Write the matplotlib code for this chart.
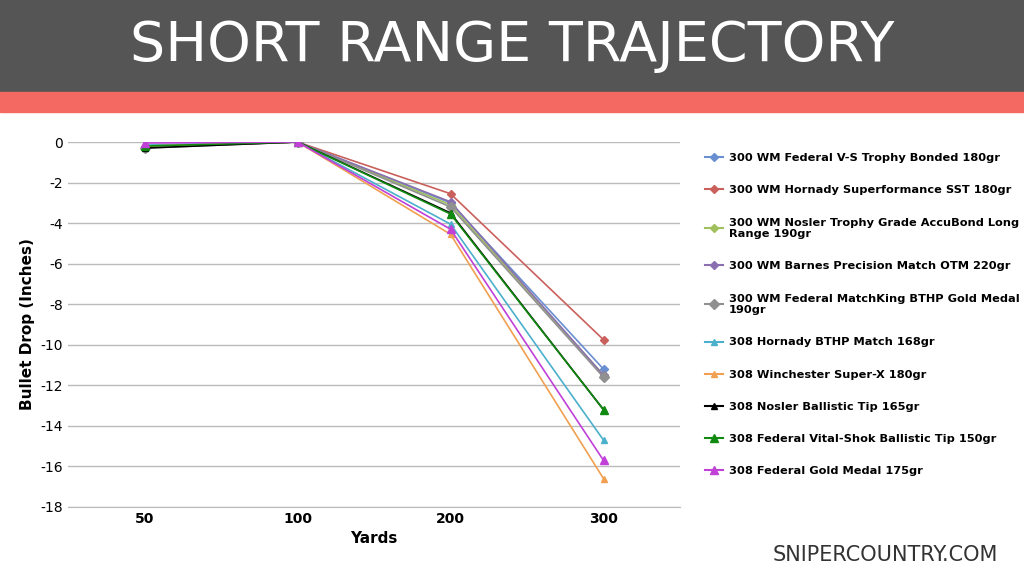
import matplotlib
matplotlib.use("Agg")
import matplotlib.pyplot as plt
from matplotlib.lines import Line2D

plt.rcParams["axes.unicode_minus"] = False

yards = ["50", "100", "200", "300"]
names = ["300 WM Federal V-S Trophy Bonded 180gr",
         "300 WM Hornady Superformance SST 180gr",
         "300 WM Nosler Trophy Grade AccuBond Long\nRange 190gr",
         "300 WM Barnes Precision Match OTM 220gr",
         "300 WM Federal MatchKing BTHP Gold Medal\n190gr",
         "308 Hornady BTHP Match 168gr",
         "308 Winchester Super-X 180gr",
         "308 Nosler Ballistic Tip 165gr",
         "308 Federal Vital-Shok Ballistic Tip 150gr",
         "308 Federal Gold Medal 175gr"]
s1 = [-0.25, 0, -3.0, -11.2]
s2 = [-0.25, 0, -2.55, -9.75]
s3 = [-0.25, 0, -3.1, -11.5]
s4 = [-0.25, 0, -2.95, -11.5]
s5 = [-0.3, 0, -3.2, -11.6]
s6 = [-0.15, 0, -4.05, -14.7]
s7 = [-0.2, 0, -4.55, -16.6]
s8 = [-0.3, 0, -3.5, -13.2]
s9 = [-0.2, 0, -3.55, -13.2]
s10 = [-0.05, 0, -4.3, -15.7]
series = [s1, s2, s3, s4, s5, s6, s7, s8, s9, s10]
colors = ["#6a8fd0", "#c9605c", "#9fc05c", "#8a70b0", "#909090",
          "#4bb0cc", "#f0a050", "#000000", "#108a10", "#c040d8"]
markers = ["D", "D", "D", "D", "D", "^", "^", "^", "^", "^"]
msz = [4, 4, 4, 4, 5, 5, 5, 5, 6, 6]

fig = plt.figure(figsize=(10.24, 5.78), dpi=100)
fig.patch.set_facecolor("white")
fig.add_artist(plt.Rectangle((0, 1 - 92/578), 1, 92/578, transform=fig.transFigure, color="#555555"))
fig.add_artist(plt.Rectangle((0, 1 - 112/578), 1, 20/578, transform=fig.transFigure, color="#f46a62"))
fig.text(0.5, 1 - 46/578, "SHORT RANGE TRAJECTORY", ha="center", va="center",
         color="white", fontsize=40, family="DejaVu Sans", fontweight="normal")
fig.text(0.975, 0.04, "SNIPERCOUNTRY.COM", ha="right", va="center",
         color="#333333", fontsize=15)

ax = fig.add_axes([68/1024, 1 - 507/578, (680 - 68)/1024, (507 - 142)/578])
x = list(range(len(yards)))
for s, c, m, ms in zip(series, colors, markers, msz):
    ax.plot(x, s, color=c, marker=m, markersize=ms, linewidth=1.2)
ax.set_xlim(-0.5, 3.5)
ax.set_ylim(-18, 0)
ax.set_yticks(range(-18, 1, 2))
ax.set_xticks(x)
ax.set_xticklabels(yards, fontweight="bold")
ax.tick_params(labelsize=10, length=0)
ax.grid(axis="y", color="#bbbbbb", linewidth=1)
ax.set_axisbelow(True)
for sp in ["top", "right", "left"]:
    ax.spines[sp].set_visible(False)
ax.spines["bottom"].set_color("#bbbbbb")
ax.set_xlabel("Yards", fontweight="bold", fontsize=11)
ax.set_ylabel("Bullet Drop (Inches)", fontweight="bold", fontsize=11)

handles = [Line2D([0], [0], color=c, marker=m, markersize=ms) for c, m, ms in zip(colors, markers, msz)]
fig.legend(handles, names, loc="upper left", bbox_to_anchor=(695/1024, 1 - 143/578),
           frameon=False, labelspacing=1.95, handlelength=1.6, handletextpad=0.5,
           prop={"weight": "bold", "size": 8.2})
fig.savefig("out.png", dpi=100)
